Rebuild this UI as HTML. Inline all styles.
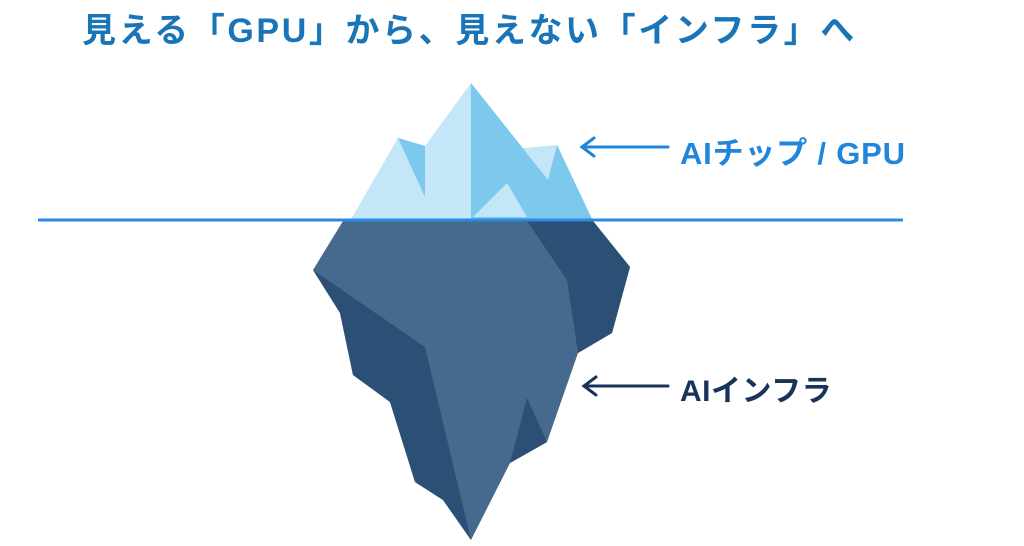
<!DOCTYPE html>
<html><head><meta charset="utf-8"><style>
body{margin:0;width:1024px;height:546px;background:#fff;overflow:hidden;position:relative;font-family:"Liberation Sans","Noto Sans CJK JP",sans-serif;}
.t{position:absolute;font-weight:bold;white-space:nowrap;}
</style></head><body>
<div class="t" style="left:82px;top:3px;font-size:34px;color:#1a74b8;letter-spacing:2.6px;">見える「GPU」から、見えない「インフラ」へ</div>
<svg width="1024" height="546" style="position:absolute;left:0;top:0">
<polygon points="350,221 398,138 425,146 471,83 523,148 557,145 593,221" fill="#c3e6f8"/>
<polygon points="471,83 548,180 557,145 593,221 471,221" fill="#7dc9ee"/>
<polygon points="398,138 425,146 425,197" fill="#7dc9ee"/>
<polygon points="473,217 507,183 527,217" fill="#c3e6f8"/>
<polygon points="343,221 313,270 340,313 353,375 390,402 415,482 443,500 471,540 510,463 547,442 578,353 612,333 630,267 593,221" fill="#466a8d"/>
<polygon points="527,221 593,221 630,267 612,333 578,353 567,280" fill="#2c4f75"/>
<polygon points="313,270 425,347 471,540 443,500 415,482 390,402 353,375 340,313" fill="#2c4f75"/>
<polygon points="527,398 547,442 510,463" fill="#2c4f75"/>
<line x1="38" y1="220" x2="903" y2="220" stroke="#2b8be0" stroke-width="3"/>
<g stroke="#1f86dc" stroke-width="3" fill="none" stroke-linecap="round">
<line x1="582" y1="147" x2="668" y2="147"/><polyline points="594,138 582,147 594,156"/></g>
<g stroke="#1a3358" stroke-width="3" fill="none" stroke-linecap="round">
<line x1="584" y1="386" x2="668" y2="386"/><polyline points="596,377 584,386 596,395"/></g>
</svg>
<div class="t" style="left:680px;top:128px;font-size:31px;color:#1f86dc;letter-spacing:0.8px;">AIチップ / GPU</div>
<div class="t" style="left:680px;top:366px;font-size:30px;color:#1a3358;letter-spacing:0.5px;">AIインフラ</div>
</body></html>
